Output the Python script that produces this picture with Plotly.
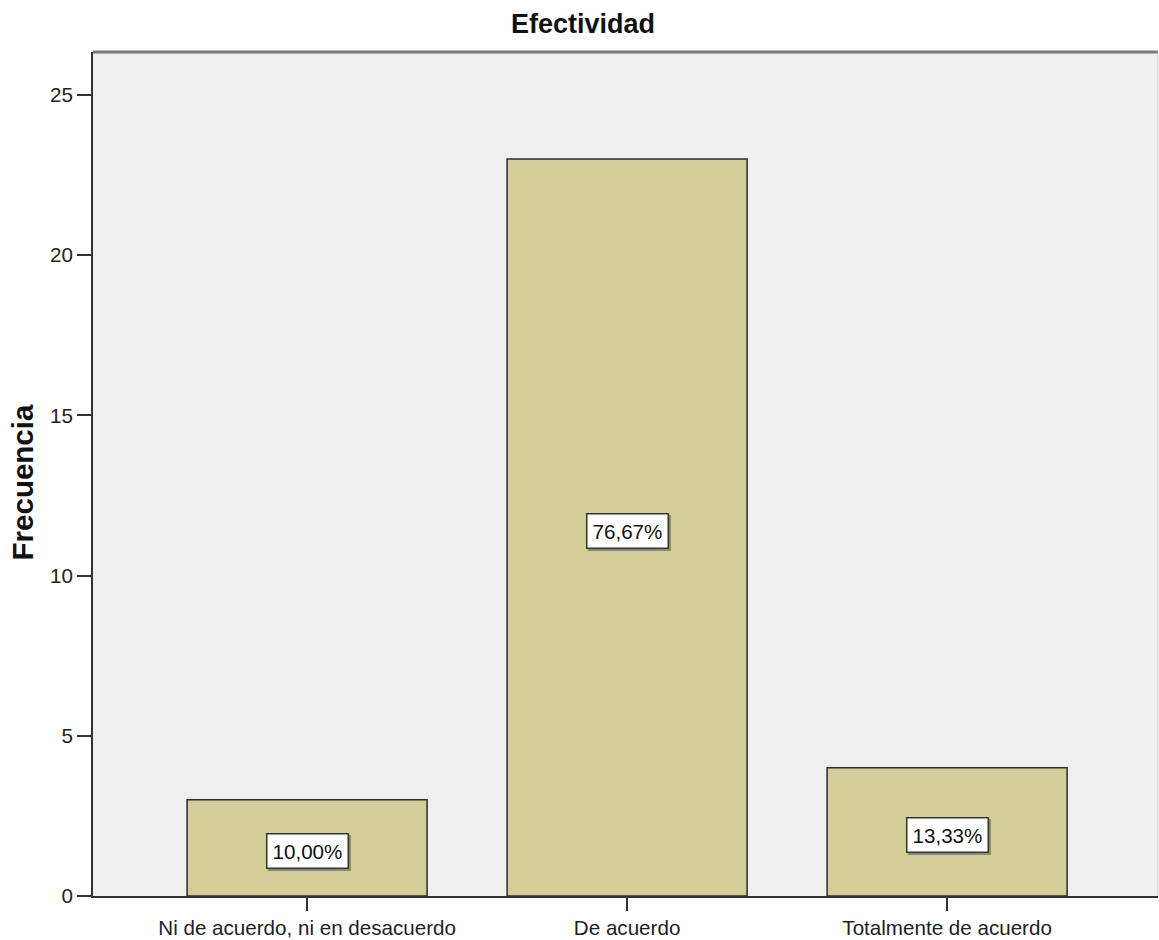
import plotly.graph_objects as go

categories = ["Ni de acuerdo, ni en desacuerdo", "De acuerdo", "Totalmente de acuerdo"]
frecuencias = [3, 23, 4]
y_ticks = [0, 5, 10, 15, 20, 25]

total = sum(frecuencias)
pct_labels = [f"{v / total * 100:.2f}%".replace(".", ",") for v in frecuencias]

FONT = "Liberation Sans, Arial, sans-serif"
BAR_COLOR = "#D3CE98"

fig = go.Figure()
fig.add_trace(go.Bar(
    x=categories,
    y=frecuencias,
    width=0.75,
    marker=dict(color=BAR_COLOR, line=dict(color="#2b2b2b", width=1.5)),
    hoverinfo="skip",
))

for cat, v, lab in zip(categories, frecuencias, pct_labels):
    # subtle shadow
    fig.add_annotation(
        x=cat, y=v / 2, xref="x", yref="y",
        text=lab, showarrow=False, yshift=-5, xshift=2,
        font=dict(family=FONT, size=20.6, color="#8a8a70"),
        bgcolor="#8a8a70", bordercolor="#8a8a70", borderwidth=1.5, borderpad=5,
    )
    fig.add_annotation(
        x=cat, y=v / 2, xref="x", yref="y",
        text=lab, showarrow=False, yshift=-3,
        font=dict(family=FONT, size=20.6, color="#111111"),
        bgcolor="white", bordercolor="#333333", borderwidth=1.5, borderpad=5,
    )

# y-axis title
fig.add_annotation(
    x=-0.0667, y=0.49, xref="paper", yref="paper",
    text="<b>Frecuencia</b>", textangle=-90, showarrow=False,
    xanchor="center", yanchor="middle",
    font=dict(family=FONT, size=29.5, color="#111111"),
)

# frame top (gray, thicker) and right (light)
fig.add_shape(type="line", xref="paper", yref="paper", x0=0, x1=1, y0=1, y1=1,
              line=dict(color="#7a7a7a", width=3))
fig.add_shape(type="line", xref="paper", yref="paper", x0=1, x1=1, y0=0, y1=1,
              line=dict(color="#c8c8c8", width=1))

fig.update_layout(
    width=1159, height=940,
    margin=dict(l=93, r=1, t=52, b=41),
    paper_bgcolor="white",
    plot_bgcolor="#EFEFEF",
    showlegend=False,
    title=dict(
        text="<b>Efectividad</b>", x=0.503, xref="container", xanchor="center",
        y=1 - 24 / 940, yref="container", yanchor="middle",
        font=dict(family=FONT, size=27, color="#111111"),
    ),
    xaxis=dict(
        type="category", range=[-0.669, 2.659],
        showline=True, linecolor="#333333", linewidth=1.5,
        ticks="outside", ticklen=13, tickcolor="#333333", tickwidth=1.5,
        tickfont=dict(family=FONT, size=20.6, color="#222222"),
        showgrid=False, zeroline=False,
    ),
    yaxis=dict(
        range=[0, 26.34], tickvals=y_ticks,
        showline=True, linecolor="#333333", linewidth=2,
        ticks="outside", ticklen=14, tickcolor="#333333", tickwidth=1.5,
        tickfont=dict(family=FONT, size=20.6, color="#222222"),
        showgrid=False, zeroline=False,
    ),
)

fig.write_html("out.html")
